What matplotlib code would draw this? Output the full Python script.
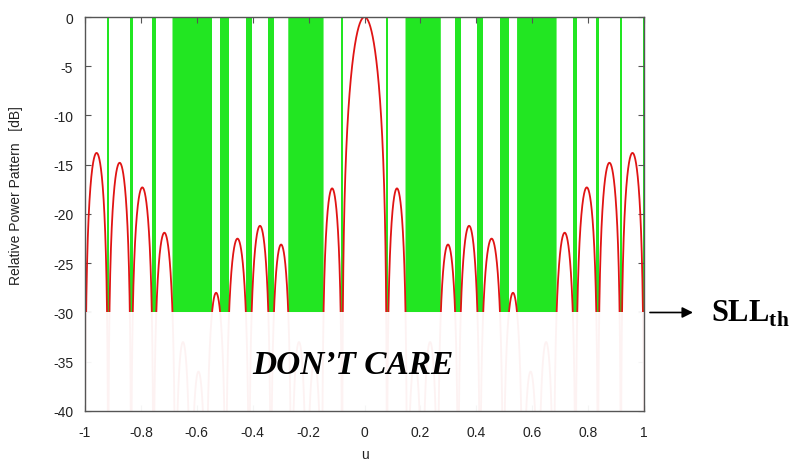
import numpy as np
import matplotlib
matplotlib.use("Agg")
import matplotlib.pyplot as plt
from matplotlib.patches import Rectangle

plt.rcParams['axes.unicode_minus'] = False

# ---- data ----
# null positions (u) bounding each lobe of the power pattern
lobe_nulls = [-1.0, -0.917, -0.835, -0.755, -0.677, -0.622, -0.566, -0.496,
              -0.413, -0.335, -0.262, -0.207, -0.152, -0.08, 0.08, 0.152,
              0.207, 0.262, 0.335, 0.413, 0.496, 0.566, 0.622, 0.677,
              0.755, 0.835, 0.917, 1.0]
# peak level (dB) of each lobe between consecutive nulls
lobe_peaks_db = [-13.8, -14.8, -17.3, -21.9, -33.0, -36.0, -28.0, -22.5,
                 -21.2, -23.1, -33.0, -35.0, -17.4, 0.0, -17.4, -35.0,
                 -33.0, -23.1, -21.2, -22.5, -28.0, -36.0, -33.0, -21.9,
                 -17.3, -14.8, -13.8]
sll_threshold = -30.0
x_ticks = [-1, -0.8, -0.6, -0.4, -0.2, 0, 0.2, 0.4, 0.6, 0.8, 1]
x_tick_labels = ["-1", "-0.8", "-0.6", "-0.4", "-0.2", "0", "0.2", "0.4", "0.6", "0.8", "1"]
y_ticks = [0, -5, -10, -15, -20, -25, -30, -35, -40]
y_tick_labels = ["0", "-5", "-10", "-15", "-20", "-25", "-30", "-35", "-40"]

# ---- build the curve lobe by lobe ----
u_all, p_all = [], []
for a, b, pk in zip(lobe_nulls[:-1], lobe_nulls[1:], lobe_peaks_db):
    u = np.linspace(a, b, 400)
    if pk == 0.0:
        c, h = 0.5 * (a + b), 0.5 * (b - a)
        shape = np.sinc((u - c) / h) ** 2
    else:
        shape = np.sin(np.pi * (u - a) / (b - a)) ** 2
    p = 10 ** (pk / 10) * shape
    u_all.append(u)
    p_all.append(p)
u_all = np.concatenate(u_all)
p_db = 10 * np.log10(np.maximum(np.concatenate(p_all), 1e-8))

fig = plt.figure(figsize=(8.01, 4.64), dpi=100)
ax = fig.add_axes([0.1061, 0.1121, 0.698, 0.8491])

green = '#22e622'
ax.fill_between(u_all, sll_threshold, 0, where=p_db < sll_threshold,
                color=green, linewidth=0, zorder=1)
ax.plot(u_all, p_db, color='#e01414', lw=1.3, zorder=2)

# "don't care" region veiled in white
ax.add_patch(Rectangle((-1, -40), 2, 10, facecolor='white', alpha=0.95,
                       edgecolor='none', zorder=3))
ax.text(-0.04, -35.3, "DON\u2019T CARE", fontsize=24, family='Liberation Serif',
        fontweight='bold', fontstyle='italic', ha='center', va='center', zorder=4)

ax.set_xlim(-1, 1)
ax.set_ylim(-40, 0)
ax.set_xticks(x_ticks)
ax.set_xticklabels(x_tick_labels)
ax.set_yticks(y_ticks)
ax.set_yticklabels(y_tick_labels)
ax.tick_params(direction='in', length=4, width=0.8, color='#555555',
               labelsize=10, labelcolor='#222222', top=True, right=True)
ax.tick_params(axis='x', pad=10)
ax.tick_params(axis='y', pad=8.5)
for lab in ax.get_xticklabels() + ax.get_yticklabels():
    lab.set_family('Liberation Sans')
for s in ax.spines.values():
    s.set_color('#555555')
    s.set_linewidth(1.0)
    s.set_zorder(5)

ax.set_ylabel("Relative Power Pattern   [dB]", fontsize=10, family='Liberation Sans',
              color='#222222')
ax.yaxis.set_label_coords(-0.11, 0.55)
ax.set_xlabel("u", fontsize=10, family='Liberation Sans', color='#222222')
ax.xaxis.set_label_coords(0.5, -0.11)
ax.xaxis.label.set_verticalalignment('center')

# SLL threshold marker outside the axes
ax.annotate("", xy=(1.175, sll_threshold), xytext=(1.021, sll_threshold),
            xycoords='data', textcoords='data', annotation_clip=False,
            arrowprops=dict(arrowstyle='-|>', color='black', lw=1.2,
                            mutation_scale=16, shrinkA=0, shrinkB=0))
ax.text(1.24, sll_threshold, r"SLL$_{\mathregular{th}}$", fontsize=22,
        family='Liberation Serif', fontweight='bold', ha='left', va='center',
        clip_on=False)

fig.savefig("out.png", dpi=100)
